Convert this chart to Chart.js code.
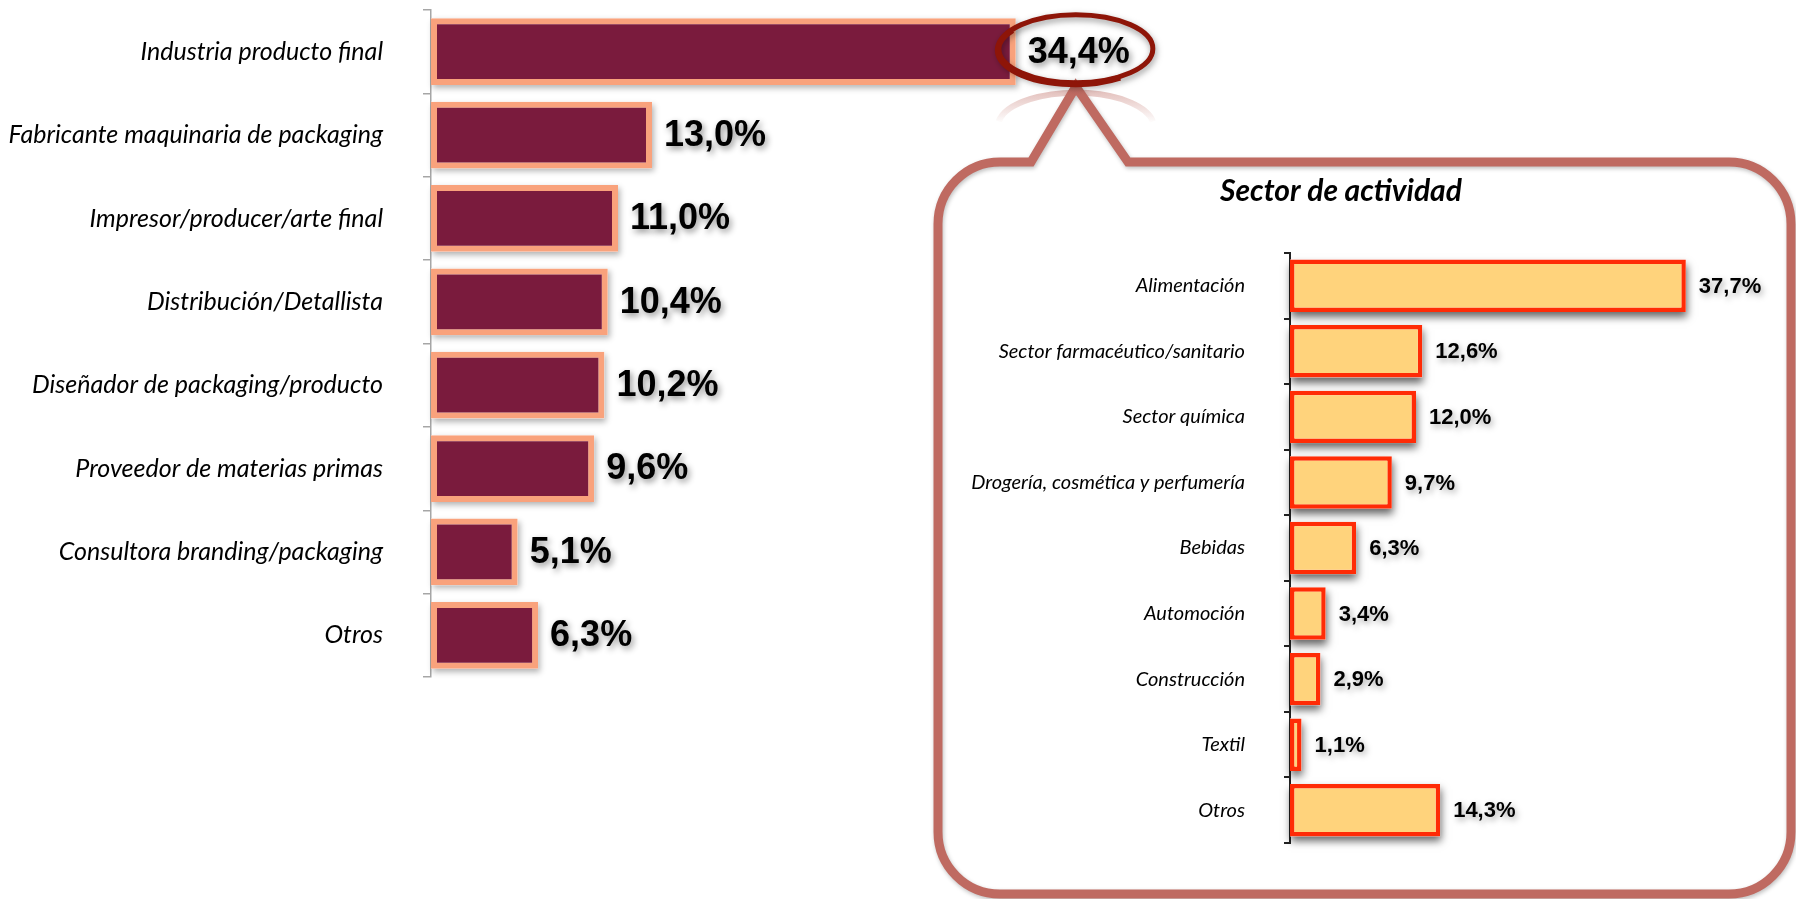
<!DOCTYPE html>
<html>
<head>
<meta charset="utf-8">
<script src="https://cdn.jsdelivr.net/npm/chart.js@4.4.1/dist/chart.umd.min.js"></script>
<style>
  html, body { margin: 0; padding: 0; background: #fff; }
  #wrap { position: relative; width: 1796px; height: 899px; overflow: hidden; }
  #wrap canvas { position: absolute; left: 0; top: 0; }
</style>
</head>
<body>
<div id="wrap">
  <canvas id="perfil" width="1796" height="899"></canvas>
  <canvas id="sector" width="1796" height="899"></canvas>
</div>
<script>
// Perfil de empresa (left chart)
const perfilLabels = [
  'Industria producto final',
  'Fabricante maquinaria de packaging',
  'Impresor/producer/arte final',
  'Distribución/Detallista',
  'Diseñador de packaging/producto',
  'Proveedor de materias primas',
  'Consultora branding/packaging',
  'Otros'
];
const perfilValues = [34.4, 13.0, 11.0, 10.4, 10.2, 9.6, 5.1, 6.3];

// Sector de actividad (callout chart)
const sectorTitle = 'Sector de actividad';
const sectorLabels = [
  'Alimentación',
  'Sector farmacéutico/sanitario',
  'Sector química',
  'Drogería, cosmética y perfumería',
  'Bebidas',
  'Automoción',
  'Construcción',
  'Textil',
  'Otros'
];
const sectorValues = [37.7, 12.6, 12.0, 9.7, 6.3, 3.4, 2.9, 1.1, 14.3];

function pct(v) { return v.toFixed(1).replace('.', ',') + '%'; }

// fixed axis width; drop the extra top/bottom room Chart.js adds for labels
function fixAxis(width) {
  return function (s) {
    s.width = width;
    s.paddingTop = 0;
    s.paddingBottom = 0;
  };
}

// drop shadow behind the bars, drawn before the bars themselves
function barShadow(id, color, blur, dx, dy) {
  return {
    id: id,
    beforeDatasetsDraw: function (chart) {
      const ctx = chart.ctx;
      ctx.save();
      ctx.shadowColor = color;
      ctx.shadowBlur = blur;
      ctx.shadowOffsetX = dx;
      ctx.shadowOffsetY = dy;
      ctx.fillStyle = '#fff';
      chart.getDatasetMeta(0).data.forEach(function (bar) {
        const p = bar.getProps(['x', 'y', 'base', 'height'], true);
        ctx.fillRect(p.base, p.y - p.height / 2, p.x - p.base, p.height);
      });
      ctx.restore();
    }
  };
}

// value labels at the end of each bar
function valueLabels(id, values, font, gap, shadow) {
  return {
    id: id,
    afterDatasetsDraw: function (chart) {
      const ctx = chart.ctx;
      ctx.save();
      ctx.font = font;
      ctx.fillStyle = '#000';
      ctx.textAlign = 'left';
      ctx.textBaseline = 'middle';
      ctx.shadowColor = shadow;
      ctx.shadowBlur = 6;
      ctx.shadowOffsetX = 2;
      ctx.shadowOffsetY = 3;
      chart.getDatasetMeta(0).data.forEach(function (bar, i) {
        ctx.fillText(pct(values[i]), bar.x + gap, bar.y + 1);
      });
      ctx.restore();
    }
  };
}

// callout bubble + ring around the first value
const calloutPlugin = {
  id: 'callout',
  afterDraw: function (chart) {
    const ctx = chart.ctx;
    const bar = chart.getDatasetMeta(0).data[0];
    ctx.save();
    ctx.font = 'bold 36px "Liberation Sans", Arial, sans-serif';
    const w = ctx.measureText(pct(perfilValues[0])).width;
    const cx = bar.x + 12 + w / 2 - 3, cy = bar.y - 3;

    // bubble
    const L = 938, T = 162, R = 1791, B = 894, r = 62;
    const pL = 1031, pR = 1128, ax = cx, ay = cy + 38;
    ctx.beginPath();
    ctx.moveTo(pR, T);
    ctx.lineTo(R - r, T);
    ctx.arcTo(R, T, R, T + r, r);
    ctx.lineTo(R, B - r);
    ctx.arcTo(R, B, R - r, B, r);
    ctx.lineTo(L + r, B);
    ctx.arcTo(L, B, L, B - r, r);
    ctx.lineTo(L, T + r);
    ctx.arcTo(L, T, L + r, T, r);
    ctx.lineTo(pL, T);
    ctx.lineTo(ax, ay);
    ctx.closePath();
    ctx.fillStyle = '#fff';
    ctx.fill();
    ctx.shadowColor = 'rgba(0,0,0,0.25)';
    ctx.shadowBlur = 4;
    ctx.shadowOffsetX = 1;
    ctx.shadowOffsetY = 2;
    ctx.strokeStyle = '#BF6A61';
    ctx.lineWidth = 9;
    ctx.lineJoin = 'miter';
    ctx.stroke();

    // faint reflection under the ring
    ctx.shadowColor = 'transparent';
    const g = ctx.createLinearGradient(0, cy + 40, 0, cy + 75);
    g.addColorStop(0, 'rgba(190,107,98,0.45)');
    g.addColorStop(1, 'rgba(190,107,98,0)');
    ctx.beginPath();
    ctx.ellipse(cx, cy + 78, 78, 34, 0, Math.PI * 1.05, Math.PI * 1.95);
    ctx.strokeStyle = g;
    ctx.lineWidth = 6;
    ctx.stroke();

    // ring, a little heavier on the lower left
    ctx.shadowColor = 'rgba(0,0,0,0.4)';
    ctx.shadowBlur = 6;
    ctx.shadowOffsetX = 1;
    ctx.shadowOffsetY = 3;
    ctx.beginPath();
    ctx.ellipse(cx, cy, 77, 34, 0, 0, Math.PI * 2);
    ctx.strokeStyle = '#8E1508';
    ctx.lineWidth = 5;
    ctx.stroke();
    ctx.shadowColor = 'transparent';
    ctx.beginPath();
    ctx.ellipse(cx - 1, cy + 1.5, 77, 34, 0, Math.PI * 0.3, Math.PI * 1.2);
    ctx.lineWidth = 6;
    ctx.stroke();
    ctx.restore();
  }
};

new Chart(document.getElementById('perfil'), {
  type: 'bar',
  data: {
    labels: perfilLabels,
    datasets: [{
      data: perfilValues,
      backgroundColor: '#7A1B3D',
      borderColor: '#F9A27C',
      borderWidth: 6,
      borderSkipped: false,
      barPercentage: 0.8,
      categoryPercentage: 1
    }]
  },
  options: {
    indexAxis: 'y',
    responsive: false,
    animation: false,
    layout: { padding: { left: 0, top: 10, bottom: 222, right: 685 } },
    plugins: { legend: { display: false }, tooltip: { enabled: false } },
    scales: {
      x: { display: false, min: 0, max: 40 },
      y: {
        afterFit: fixAxis(431),
        border: { color: '#A6A6A6', width: 1.5 },
        grid: { drawOnChartArea: false, color: '#A6A6A6', lineWidth: 1.5, tickLength: 8 },
        ticks: {
          color: '#000',
          padding: 40,
          font: { family: 'Lato, "Open Sans", sans-serif', style: 'italic', size: 25 }
        }
      }
    }
  },
  plugins: [
    barShadow('perfilShadow', 'rgba(0,0,0,0.3)', 6, 2, 3),
    valueLabels('perfilValues', perfilValues, 'bold 36px "Liberation Sans", Arial, sans-serif', 12, 'rgba(0,0,0,0.45)'),
    calloutPlugin
  ]
});

const sectorTitlePlugin = {
  id: 'sectorTitle',
  afterDraw: function (chart) {
    const ctx = chart.ctx;
    ctx.save();
    ctx.font = 'italic bold 30px Lato, "Open Sans", sans-serif';
    ctx.fillStyle = '#000';
    ctx.textAlign = 'center';
    ctx.textBaseline = 'middle';
    ctx.fillText(sectorTitle, 1341, 191);
    ctx.restore();
  }
};

new Chart(document.getElementById('sector'), {
  type: 'bar',
  data: {
    labels: sectorLabels,
    datasets: [{
      data: sectorValues,
      backgroundColor: '#FFD37C',
      borderColor: '#FF2B06',
      borderWidth: 4.5,
      borderSkipped: false,
      barPercentage: 0.8,
      categoryPercentage: 1
    }]
  },
  options: {
    indexAxis: 'y',
    responsive: false,
    animation: false,
    layout: { padding: { left: 0, top: 253, bottom: 56, right: 86 } },
    plugins: { legend: { display: false }, tooltip: { enabled: false } },
    scales: {
      x: { display: false, min: 0, max: 40 },
      y: {
        afterFit: fixAxis(1290),
        border: { color: '#222', width: 2 },
        grid: { drawOnChartArea: false, color: '#222', lineWidth: 2, tickLength: 6 },
        ticks: {
          color: '#000',
          padding: 39,
          font: { family: 'Lato, "Open Sans", sans-serif', style: 'italic', size: 20 }
        }
      }
    }
  },
  plugins: [
    barShadow('sectorShadow', 'rgba(0,0,0,0.6)', 8, 1, 5),
    valueLabels('sectorValues', sectorValues, 'bold 22px "Liberation Sans", Arial, sans-serif', 13, 'rgba(0,0,0,0.35)'),
    sectorTitlePlugin
  ]
});
</script>
</body>
</html>
